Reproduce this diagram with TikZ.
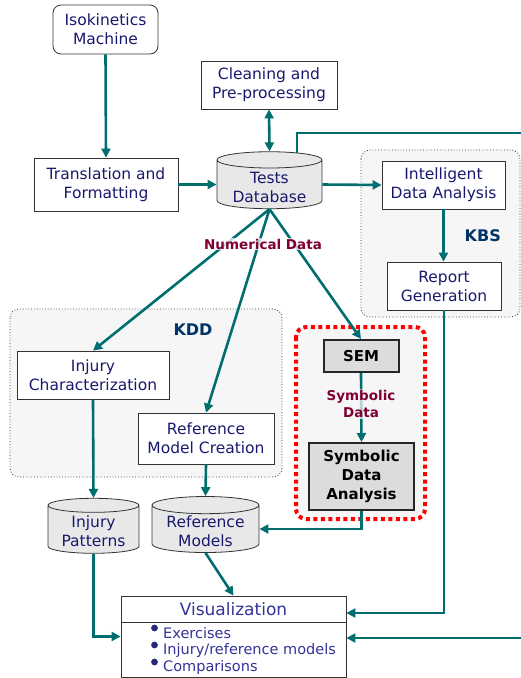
\documentclass[tikz,border=0pt]{standalone}
\usepackage{fontspec}
\setmainfont{DejaVu Sans}
\usetikzlibrary{shapes.geometric,arrows.meta,calc}

\definecolor{navy}{RGB}{25,25,110}
\definecolor{flowteal}{RGB}{0,110,110}
\definecolor{maroon}{RGB}{128,0,51}
\definecolor{grouptitle}{RGB}{0,51,102}
\definecolor{visblue}{RGB}{51,51,153}
\definecolor{groupgray}{RGB}{246,246,246}
\definecolor{dbgray}{RGB}{232,232,232}
\definecolor{semgray}{RGB}{220,220,220}

% text of a database, set a little lower in the cylinder body
\newcommand{\dbtext}[2][8.5pt]{\raisebox{-#1}[0pt][0pt]{\begin{tabular}{@{}c@{}}#2\end{tabular}}}

\tikzset{
  box/.style={draw=black!80, line width=0.8pt, fill=white, text=navy, align=center,
    font=\fontsize{15.5}{19}\selectfont, inner sep=0pt},
  dbase/.style={cylinder, shape border rotate=90, aspect=0.22, draw=black!80, line width=0.8pt,
    fill=dbgray, text=navy, align=center, font=\fontsize{15.5}{19}\selectfont, inner sep=0pt},
  symbox/.style={draw=black!85, line width=2pt, fill=semgray, align=center,
    font=\fontsize{15}{19}\selectfont\bfseries, inner sep=0pt},
  group/.style={draw=black!80, dotted, line width=0.8pt, fill=groupgray, rounded corners=9pt},
  grouplabel/.style={text=grouptitle, font=\fontsize{16}{19}\selectfont\bfseries},
  datalabel/.style={text=maroon, align=center, font=\fontsize{13.5}{17}\selectfont\bfseries,
    inner sep=1pt},
  flow/.style={draw=flowteal, line width=2.6pt, -{Triangle[length=9pt,width=9pt]}},
}

\begin{document}
\begin{tikzpicture}[x=1pt,y=-1pt]
  \useasboundingbox (0,0) rectangle (521,678);

  % Draw the group areas
  \draw[group] (10,309) rectangle (282,477);
  \draw[group] (361,150) rectangle (520,317);
  \draw[red, line width=4pt, dash pattern=on 4pt off 3.5pt, fill=groupgray, rounded corners=10pt]
    (296,327) rectangle (425,519);
  \node[grouplabel] (kddlabel) at (193,330) {KDD};

  % Draw the boxes
  \node[box, rounded corners=8pt, minimum width=105pt, minimum height=49pt] (iso) at (105.5,29.5) {Isokinetics\\Machine};
  \node[box, minimum width=136pt, minimum height=48pt] (clean) at (269,85) {Cleaning and\\Pre-processing};
  \node[box, minimum width=144pt, minimum height=53pt] (trans) at (106,184.5) {Translation and\\Formatting};
  \node[dbase, minimum width=105pt, minimum height=57pt] (tests) at (269.5,184.5) {\dbtext{Tests\\Database}};
  \node[box, minimum width=123pt, minimum height=48pt] (ida) at (443.5,185) {Intelligent\\Data Analysis};
  \node[box, minimum width=114pt, minimum height=48pt] (report) at (444,286) {Report\\Generation};
  \node[box, minimum width=152pt, minimum height=48pt] (injchar) at (93,375) {Injury\\Characterization};
  \node[box, minimum width=136pt, minimum height=51pt] (refcre) at (206,438.5) {Reference\\Model Creation};
  \node[symbox, minimum width=75pt, minimum height=32pt] (sem) at (361,356) {SEM};
  \node[symbox, minimum width=105pt, minimum height=67pt] (sda) at (361.5,476.5) {Symbolic\\Data\\Analysis};
  \node[dbase, minimum width=91pt, minimum height=55pt] (injpat) at (93.5,529.5) {\dbtext[7.5pt]{Injury\\Patterns}};
  \node[dbase, minimum width=107pt, minimum height=56pt] (refmod) at (205.5,529) {\dbtext[7.5pt]{Reference\\Models}};
  \node[grouplabel] (kbslabel) at ($(ida.south)!0.5!(report.north)+(39,0)$) {KBS};

  % Draw the visualization box with its list
  \node[draw=black!80, line width=0.8pt, fill=white, minimum width=225pt, minimum height=81pt,
    inner sep=0pt] (vis) at (233.5,636.5) {};
  \draw[black!80, line width=0.8pt] (vis.west |- 0,622) -- (vis.east |- 0,622);
  \node[text=visblue, font=\fontsize{17}{20}\selectfont] (vistitle) at (233.5,609.5) {Visualization};
  \foreach \item [count=\i] in {Exercises, Injury/reference models, Comparisons} {
    \fill[visblue!80!black] (154.5,{611+17*\i}) circle (3.4pt);
    \node[anchor=west, text=visblue, font=\fontsize{14.5}{17}\selectfont, inner sep=0pt]
      (visitem\i) at (163,{616+17*\i}) {\item};
  }

  % Loose ends of the outer loop
  \coordinate (loopout) at (521,133);
  \coordinate (loopin) at (521,638);

  % Draw the connectors
  \draw[flow] (iso.south) -- (trans.north);
  \draw[flow, {Triangle[length=9pt,width=9pt]}-{Triangle[length=9pt,width=9pt]}] (tests.north) -- (clean.south);
  \draw[flow] (trans.east) -- (tests.west);
  \draw[flow] (tests.east) -- (ida.west);
  \draw[flow, -] ([xshift=27.5pt,yshift=-2pt]tests.north) |- (loopout);
  \draw[flow] (ida.south) -- (ida.south |- report.north);
  \draw[flow] (tests.south) -- (injchar.north);
  \draw[flow] (tests.south) -- (refcre.north);
  \draw[flow] (tests.south) -- (sem.north);
  \draw[flow] (sem.south) -- (sda.north);
  \draw[flow] (injchar.south) -- (injpat.north);
  \draw[flow] (refcre.south) -- (refmod.north);
  \draw[flow] (sda.south) |- (refmod.east);
  \draw[flow] (refmod.south) -- (vis.north);
  \draw[flow] (injpat.south) |- (vis.west);
  \draw[flow] (report.south) |- ([yshift=23.5pt]vis.east);
  \draw[flow] (loopin) -- (loopin -| vis.east);

  % Data labels over the connectors
  \node[datalabel, fill=white, fill opacity=0.75, text opacity=1] (numlabel) at (263,244) {Numerical Data};
  \node[datalabel, fill=groupgray, fill opacity=0.75, text opacity=1] (symlabel) at (361,404) {Symbolic\\Data};
\end{tikzpicture}
\end{document}
